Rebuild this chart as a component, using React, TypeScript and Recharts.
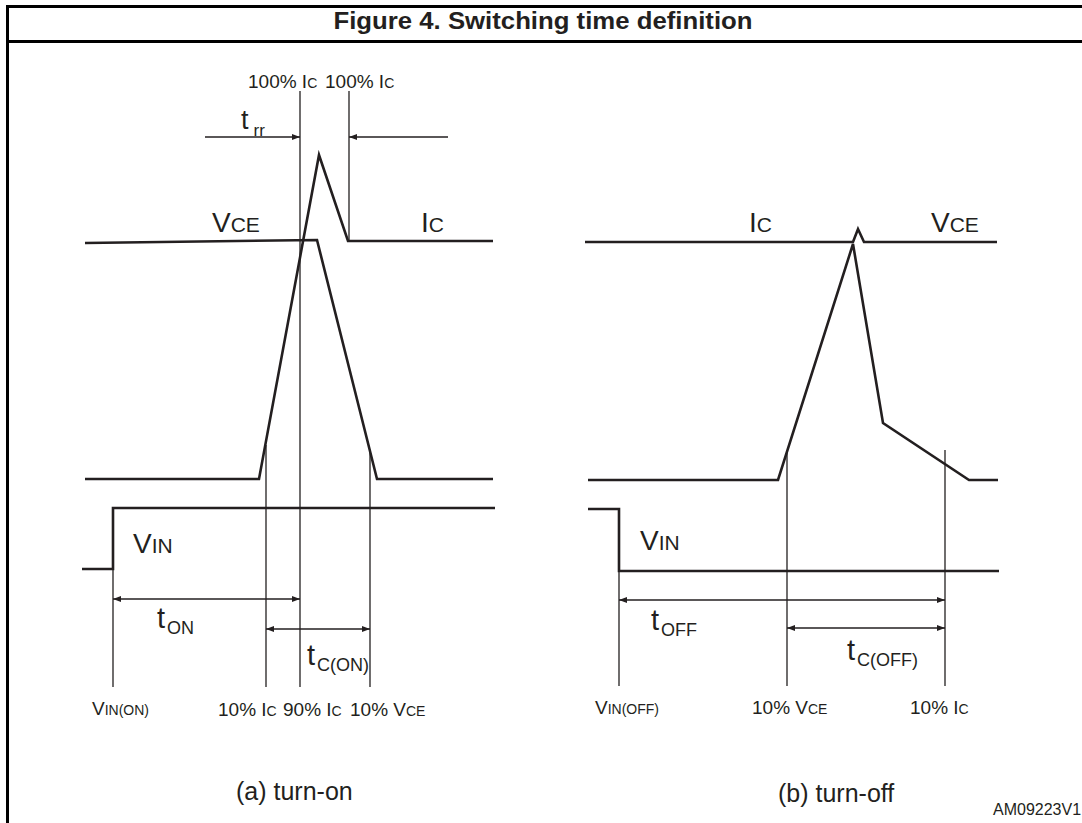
import React from "react";
import { ComposedChart, Line, Scatter, XAxis, YAxis } from "recharts";

const W = 1082;
const H = 823;
const INK = "#231f20";
const FONT = "'Liberation Sans', Arial, Helvetica, sans-serif";

// (a) turn-on waveforms (x = time position, y = level, page units downward)
const vceOn = [{ x: 85, y: 243 }, { x: 317, y: 240 }, { x: 377, y: 479 }, { x: 493, y: 479 }];
const icOn = [{ x: 85, y: 479 }, { x: 259, y: 479 }, { x: 319, y: 155 }, { x: 348, y: 241 }, { x: 493, y: 241 }];
const vinOn = [{ x: 82, y: 569 }, { x: 113, y: 569 }, { x: 113, y: 508 }, { x: 495, y: 508 }];

// (b) turn-off waveforms
const icOff = [{ x: 585, y: 242 }, { x: 853, y: 242 }, { x: 858, y: 229 }, { x: 864, y: 242 }, { x: 997, y: 242 }];
const vceOff = [{ x: 588, y: 480 }, { x: 778, y: 480 }, { x: 853, y: 244 }, { x: 883, y: 423 }, { x: 969, y: 480 }, { x: 998, y: 480 }];
const vinOff = [{ x: 588, y: 509 }, { x: 619, y: 509 }, { x: 619, y: 571 }, { x: 999, y: 571 }];

// thin reference verticals: [x, yTop, yBottom]
const markersOn = [[113, 569, 687], [266, 445, 687], [300, 91, 687], [349, 91, 241], [370, 452, 687]];
const markersOff = [[619, 571, 686], [787, 452, 686], [945, 450, 686]];

// dimension arrows: [xFrom, xTo, y, heads]
const arrows = [
  [205, 300, 137, "end"],
  [448, 349, 137, "end"],
  [113, 300, 599, "both"],
  [266, 370, 629, "both"],
  [619, 945, 600, "both"],
  [787, 945, 628, "both"],
];

// labels: x, baseline y, main text, smaller text, kind
const labels = [
  { x: 543, y: 29, main: "Figure 4. Switching time definition", small: "", kind: "title" },
  { x: 248, y: 88, main: "100% I", small: "C", kind: "pct" },
  { x: 325, y: 88, main: "100% I", small: "C", kind: "pct" },
  { x: 241, y: 129, main: "t", small: "rr", kind: "rr" },
  { x: 212, y: 232, main: "V", small: "CE", kind: "sig" },
  { x: 421, y: 232, main: "I", small: "C", kind: "sig" },
  { x: 133, y: 553, main: "V", small: "IN", kind: "sig" },
  { x: 157, y: 628, main: "t", small: "ON", kind: "time" },
  { x: 307, y: 665, main: "t", small: "C(ON)", kind: "time" },
  { x: 92, y: 715, main: "V", small: "IN(ON)", kind: "pct" },
  { x: 218, y: 716, main: "10% I", small: "C", kind: "pct" },
  { x: 283, y: 716, main: "90% I", small: "C", kind: "pct" },
  { x: 350, y: 716, main: "10% V", small: "CE", kind: "pct" },
  { x: 236, y: 800, main: "(a) turn-on", small: "", kind: "caption" },
  { x: 749, y: 232, main: "I", small: "C", kind: "sig" },
  { x: 931, y: 232, main: "V", small: "CE", kind: "sig" },
  { x: 640, y: 550, main: "V", small: "IN", kind: "sig" },
  { x: 651, y: 630, main: "t", small: "OFF", kind: "time" },
  { x: 847, y: 660, main: "t", small: "C(OFF)", kind: "time" },
  { x: 595, y: 714, main: "V", small: "IN(OFF)", kind: "pct" },
  { x: 752, y: 714, main: "10% V", small: "CE", kind: "pct" },
  { x: 910, y: 714, main: "10% I", small: "C", kind: "pct" },
  { x: 778, y: 802, main: "(b) turn-off", small: "", kind: "caption" },
  { x: 993, y: 815, main: "AM09223V1", small: "", kind: "code" },
];

const KINDS: Record<string, any> = {
  title: { main: 23, small: 23, dy: 0, dx: 0, bold: true, anchor: "middle", len: 419 },
  pct: { main: 19, small: 14, dy: 0, dx: 0 },
  sig: { main: 28, small: 21, dy: 0, dx: 0 },
  time: { main: 29, small: 18, dy: 6, dx: 2 },
  rr: { main: 27, small: 17, dy: 7, dx: 5 },
  caption: { main: 25, small: 25, dy: 0, dx: 0 },
  code: { main: 16, small: 16, dy: 0, dx: 0 },
};

const seg = (m: number[]) => [{ x: m[0], y: m[1] }, { x: m[0], y: m[2] }];

const heads = arrows.flatMap((a: any) => {
  const [x1, x2, y, kind] = a;
  const dir = x2 > x1 ? 1 : -1;
  const end = { x: x2, y, dir };
  return kind === "both" ? [{ x: x1, y, dir: -dir }, end] : [end];
});

const Head = (props: any) => {
  const { cx, cy, payload } = props;
  const d = payload.dir;
  return <path d={`M${cx},${cy} L${cx - d * 8},${cy - 3} L${cx - d * 8},${cy + 3} Z`} fill={INK} />;
};

const Label = (props: any) => {
  const { cx, cy, payload } = props;
  const k = KINDS[payload.kind];
  return (
    <text
      x={cx}
      y={cy}
      fill={INK}
      fontFamily={FONT}
      fontSize={k.main}
      fontWeight={k.bold ? 700 : 400}
      textAnchor={k.anchor || "start"}
      textLength={k.len}
      lengthAdjust={k.len ? "spacingAndGlyphs" : undefined}
    >
      <tspan>{payload.main}</tspan>
      {payload.small ? <tspan fontSize={k.small} dx={k.dx} dy={k.dy}>{payload.small}</tspan> : null}
    </text>
  );
};

const wave = (data: any[], key: string) => (
  <Line key={key} data={data} dataKey="y" type="linear" stroke={INK} strokeWidth={2.6} dot={false} activeDot={false} isAnimationActive={false} />
);

const thin = (data: any[], key: string) => (
  <Line key={key} data={data} dataKey="y" type="linear" stroke={INK} strokeWidth={1.3} dot={false} activeDot={false} isAnimationActive={false} />
);

export default function App() {
  return (
    <div style={{ position: "absolute", left: 0, top: 0, width: W, height: H, overflow: "hidden", background: "#fff" }}>
      <div style={{ position: "absolute", left: 6, top: 5, width: W + 10, height: H + 10, borderTop: `3px solid #000`, borderLeft: `3px solid #000` }} />
      <div style={{ position: "absolute", left: 6, top: 40, width: W, height: 3, background: "#000" }} />
      <div style={{ position: "absolute", left: 0, top: 0 }}>
        <ComposedChart width={W} height={H} margin={{ top: 0, right: 0, bottom: 0, left: 0 }}>
          <XAxis type="number" dataKey="x" domain={[0, W]} hide />
          <YAxis type="number" dataKey="y" domain={[0, H]} reversed hide />
          {wave(vceOn, "vceOn")}
          {wave(icOn, "icOn")}
          {wave(vinOn, "vinOn")}
          {wave(icOff, "icOff")}
          {wave(vceOff, "vceOff")}
          {wave(vinOff, "vinOff")}
          {[...markersOn, ...markersOff].map((m, i) => thin(seg(m), `m${i}`))}
          {arrows.map((a: any, i) => thin([{ x: a[0], y: a[2] }, { x: a[1], y: a[2] }], `a${i}`))}
          <Scatter data={heads} dataKey="y" shape={Head} isAnimationActive={false} />
          <Scatter data={labels} dataKey="y" shape={Label} isAnimationActive={false} />
        </ComposedChart>
      </div>
    </div>
  );
}
